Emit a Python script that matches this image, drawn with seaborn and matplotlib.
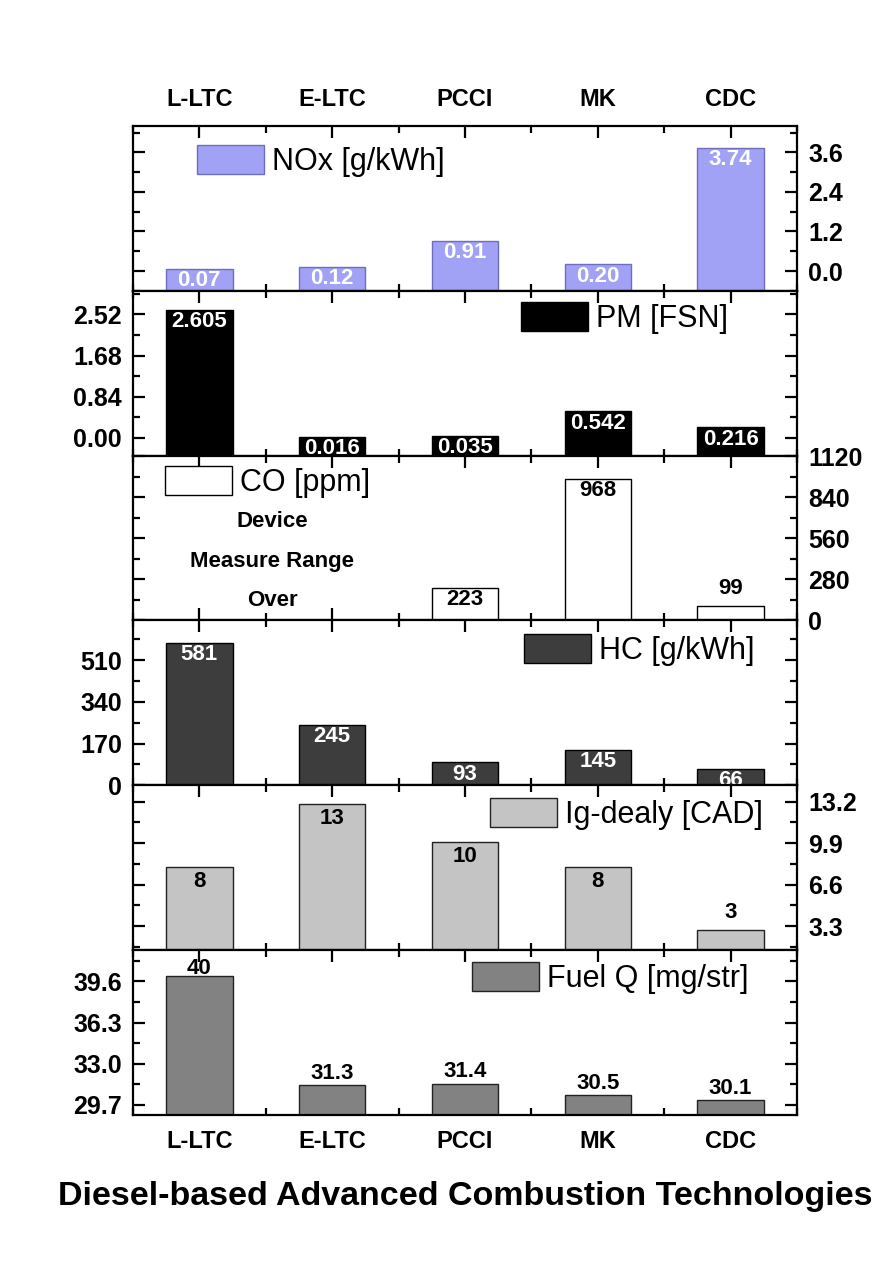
import matplotlib
matplotlib.use('Agg')
import matplotlib.pyplot as plt
import matplotlib.ticker as mticker
import pandas as pd
import seaborn as sns

# Data
categories = ['L-LTC', 'E-LTC', 'PCCI', 'MK', 'CDC']
nox = [0.07, 0.12, 0.91, 0.20, 3.74]
pm = [2.605, 0.016, 0.035, 0.542, 0.216]
co = [None, None, 223, 968, 99]   # L-LTC / E-LTC over device range
hc = [581, 245, 93, 145, 66]
ig_delay = [8, 13, 10, 8, 3]
fuel_q = [40, 31.3, 31.4, 30.5, 30.1]

sns.set_style('ticks')
plt.rcParams['font.family'] = ['Liberation Sans', 'DejaVu Sans']
plt.rcParams['font.weight'] = 'bold'
for k in ['text.color', 'axes.edgecolor', 'axes.labelcolor', 'xtick.color', 'ytick.color']:
    plt.rcParams[k] = 'black'

fig, axes = plt.subplots(6, 1, figsize=(8.86, 12.66), dpi=100)
fig.subplots_adjust(left=0.150, right=0.8995, top=0.9005, bottom=0.1193, hspace=0)

# (values, label, face, edge, text colour, fmt, ylim, major step, label side, legend anchor)
panels = [
    (nox, 'NOx [g/kWh]', '#A1A1F6', '#6E6EC0', 'white', '%.2f', (-0.6, 4.4), 1.2, 'right', (0.096, 0.885)),
    (pm, 'PM [FSN]', '#000000', '#000000', 'white', '%.3f', (-0.36, 3.0), 0.84, 'left', (0.584, 0.933)),
    (co, 'CO [ppm]', '#FFFFFF', '#000000', 'black', '{:g}', (0, 1125), 280, 'right', (0.048, 0.939)),
    (hc, 'HC [g/kWh]', '#3D3D3D', '#000000', 'white', '{:g}', (0, 672), 170, 'left', (0.589, 0.915)),
    (ig_delay, 'Ig-dealy [CAD]', '#C4C4C4', '#222222', 'black', '{:g}', (1.4, 14.5), 3.3, 'right', (0.538, 0.921)),
    (fuel_q, 'Fuel Q [mg/str]', '#828282', '#222222', 'black', '{:g}', (28.9, 42.1), 3.3, 'left', (0.511, 0.927)),
]

for i, (ax, (vals, name, face, edge, tcol, fmt, ylim, step, side, anchor)) in enumerate(zip(axes, panels)):
    df = pd.DataFrame({'cat': categories, 'val': vals}).dropna()
    sns.barplot(data=df, x='cat', y='val', order=categories, color=face,
                edgecolor=edge, linewidth=1, width=0.5, saturation=1,
                label=name, ax=ax)

    # Origin style: bars start from the bottom of the axis
    for p in ax.patches:
        top = p.get_y() + p.get_height()
        p.set_y(ylim[0])
        p.set_height(top - ylim[0])

    ax.set_ylim(*ylim)
    ax.set_xlim(-0.5, 4.5)
    ax.set_xlabel('')
    ax.set_ylabel('')

    # value labels
    pads = [-16] * len(df)
    if name.startswith('CO'):
        pads = [-16, -16, 5]
    elif name.startswith('Ig'):
        pads = [-18, -18, -18, -18, 5]
    elif name.startswith('Fuel'):
        pads = [-2, 1, 1, 1, 1]
    cont = ax.containers[0]
    for bar, v, pad in zip(cont.patches, df['val'], pads):
        txt = (fmt % v) if fmt.startswith('%') else fmt.format(v)
        ax.annotate(txt, (bar.get_x() + bar.get_width() / 2, bar.get_y() + bar.get_height()),
                    xytext=(0, pad), textcoords='offset points', ha='center', va='bottom',
                    fontsize=16, fontweight='bold', color=tcol)

    # ticks
    ax.yaxis.set_major_locator(mticker.MultipleLocator(step))
    ax.yaxis.set_minor_locator(mticker.MultipleLocator(step / 2))
    ax.xaxis.set_minor_locator(mticker.MultipleLocator(1.0, offset=0.5))
    dec = {1.2: '%.1f', 0.84: '%.2f', 280: '%d', 170: '%d', 3.3: '%.1f'}[step]
    ax.yaxis.set_major_formatter(mticker.FormatStrFormatter(dec))
    ax.tick_params(which='both', direction='in', top=True, bottom=True,
                   left=True, right=True, width=1.6, labelsize=18)
    ax.tick_params(which='major', length=8.5)
    ax.tick_params(which='minor', length=5)
    ax.tick_params(axis='y', pad=8, labelleft=(side == 'left'), labelright=(side == 'right'))
    ax.tick_params(axis='x', pad=11, labelsize=17, labelbottom=(i == 5), labeltop=(i == 0))
    for s in ax.spines.values():
        s.set_linewidth(1.6)

    ax.legend(loc='upper left', bbox_to_anchor=anchor, frameon=False, borderpad=0,
              borderaxespad=0, handlelength=2.2, handleheight=1.08, handletextpad=0.25,
              prop={'size': 22, 'weight': 'normal'})

# CO note for missing bars
for txt, yf in [('Device', 0.60), ('Measure Range', 0.358), ('Over', 0.121)]:
    axes[2].text(0.21, yf, txt, transform=axes[2].transAxes, ha='center', va='center',
                 fontsize=16, fontweight='bold')

axes[5].set_xlabel('Diesel-based Advanced Combustion Technologies',
                   fontsize=24.5, fontweight='bold', labelpad=20)

fig.savefig('out.png', dpi=100)
